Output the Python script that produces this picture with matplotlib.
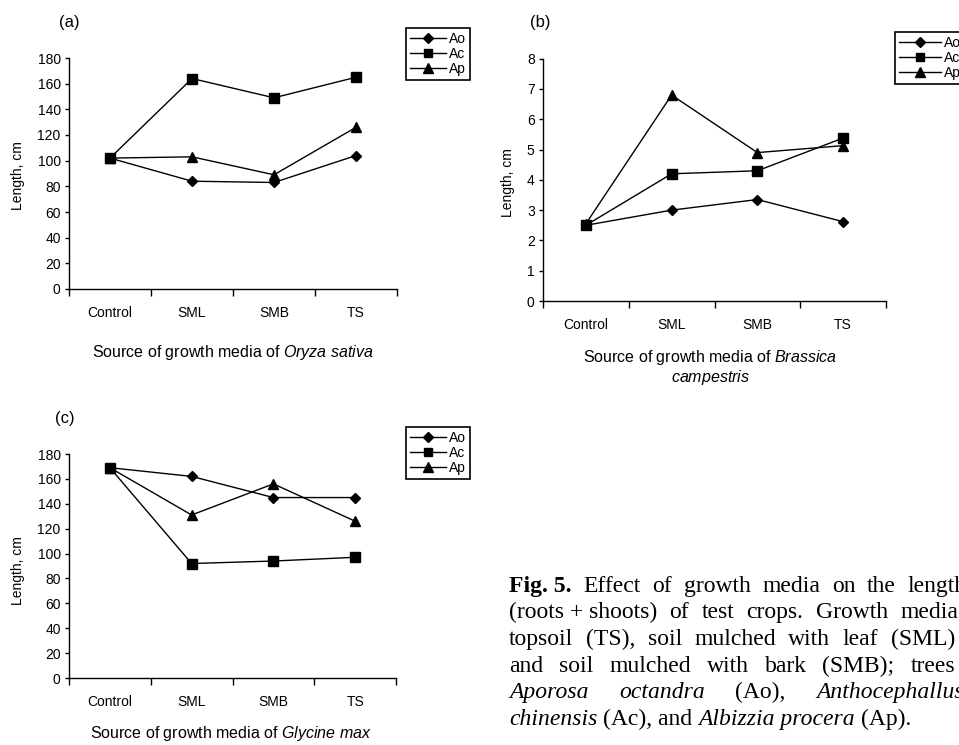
import matplotlib
matplotlib.use('Agg')
import matplotlib.pyplot as plt

# ---------------- data ----------------
categories = ['Control', 'SML', 'SMB', 'TS']
series_names = ['Ao', 'Ac', 'Ap']

a_ao = [102, 84, 83, 104]
a_ac = [102, 164, 149, 165]
a_ap = [102, 103, 89, 126]

b_ao = [2.5, 3.0, 3.35, 2.62]
b_ac = [2.5, 4.2, 4.3, 5.38]
b_ap = [2.55, 6.8, 4.9, 5.13]

c_ao = [169, 162, 145, 145]
c_ac = [169, 92, 94, 97]
c_ap = [169, 131, 156, 126]

a_yticks = list(range(0, 181, 20))
b_yticks = list(range(0, 9, 1))
c_yticks = list(range(0, 181, 20))

# ---------------- style ----------------
plt.rcParams['font.family'] = ['Liberation Sans', 'DejaVu Sans']
plt.rcParams['mathtext.fontset'] = 'custom'
plt.rcParams['mathtext.rm'] = 'Liberation Sans'
plt.rcParams['mathtext.it'] = 'Liberation Sans:italic'

W, H = 959, 745
fig = plt.figure(figsize=(W / 100, H / 100), dpi=100)

markers = {'Ao': ('D', 5.5), 'Ac': ('s', 6.5), 'Ap': ('^', 7.5)}


def px_rect(l, r, b, t):
    return [l / W, 1 - b / H, (r - l) / W, (b - t) / H]


def make_panel(rect, data, yticks, xlabel, xlab_xy, ylab_xy, leg_xy, label_ls=1.2,
               handlelength=2.6):
    ax = fig.add_axes(rect)
    x = list(range(len(categories)))
    for name, vals in zip(series_names, data):
        m, ms = markers[name]
        ax.plot(x, vals, color='black', lw=1.0, marker=m, markersize=ms,
                markerfacecolor='black', markeredgecolor='black', label=name)
    ax.set_xlim(-0.5, len(categories) - 0.5)
    ax.set_ylim(yticks[0], yticks[-1])
    ax.set_yticks(yticks)
    ax.set_xticks([i - 0.5 for i in range(len(categories) + 1)])
    ax.set_xticklabels([])
    ax.set_xticks(x, minor=True)
    ax.set_xticklabels(categories, minor=True)
    ax.tick_params(axis='x', which='major', direction='out', length=5, width=1)
    ax.tick_params(axis='x', which='minor', length=0, pad=12, labelsize=10)
    ax.tick_params(axis='y', direction='out', length=3, width=1, pad=3, labelsize=10)
    for s in ['top', 'right']:
        ax.spines[s].set_visible(False)
    for s in ['left', 'bottom']:
        ax.spines[s].set_linewidth(1.0)
    ax.set_xlabel(xlabel, fontsize=11.5, linespacing=label_ls)
    ax.xaxis.set_label_coords(*xlab_xy)
    ax.set_ylabel('Length, cm', fontsize=10)
    ax.yaxis.set_label_coords(*ylab_xy)
    leg = ax.legend(loc='upper left', bbox_to_anchor=(leg_xy[0] / W, 1 - leg_xy[1] / H),
                    bbox_transform=fig.transFigure, borderaxespad=0, fontsize=10,
                    frameon=True, fancybox=False, edgecolor='black', framealpha=1,
                    handlelength=handlelength, handletextpad=0.2, labelspacing=0.05,
                    borderpad=0.3, markerscale=0.9)
    leg.get_frame().set_linewidth(1.2)
    return ax


make_panel(px_rect(69, 397, 289, 58), [a_ao, a_ac, a_ap], a_yticks,
           r'Source of growth media of $\it{Oryza\ sativa}$',
           (0.5, -0.235), (-0.134, 0.49), (406, 28))
make_panel(px_rect(543, 886, 301, 58.7), [b_ao, b_ac, b_ap], b_yticks,
           'Source of growth media of $\\it{Brassica}$\n$\\it{campestris}$',
           (0.487, -0.195), (-0.082, 0.49), (895, 32), label_ls=1.05,
           handlelength=3.0)
make_panel(px_rect(69, 396, 678, 454), [c_ao, c_ac, c_ap], c_yticks,
           r'Source of growth media of $\it{Glycine\ max}$',
           (0.496, -0.205), (-0.135, 0.48), (406, 427))

# panel letters
for lab, xp, yp in [('(a)', 69, 22), ('(b)', 540, 22), ('(c)', 65, 418)]:
    fig.text(xp / W, 1 - yp / H, lab, fontsize=12, ha='center', va='center')

# ---------------- caption (justified) ----------------
renderer = fig.canvas.get_renderer()
CAP_FS = 17
CAP_FAM = ['Liberation Serif', 'DejaVu Serif']
N, B, I = 'normal', 'bold', 'italic'

caption_lines = [
    ([('Fig. 5.', B), ('Effect', N), ('of', N), ('growth', N), ('media', N), ('on', N),
      ('the', N), ('length', N)], 592, 967, True),
    ([('(roots + shoots)', N), ('of', N), ('test', N), ('crops.', N), ('Growth', N),
      ('media', N)], 618, 958, True),
    ([('topsoil', N), ('(TS),', N), ('soil', N), ('mulched', N), ('with', N), ('leaf', N),
      ('(SML)', N)], 645, 955, True),
    ([('and', N), ('soil', N), ('mulched', N), ('with', N), ('bark', N), ('(SMB);', N),
      ('trees', N)], 672, 955, True),
    ([('Aporosa', I), ('octandra', I), ('(Ao),', N), ('Anthocephallus', I)], 698, 964, True),
    ([('chinensis', I), ('(Ac), and', N), ('Albizzia procera', I), ('(Ap).', N)], 725, None, False),
]
X0 = 509
SPACE = CAP_FS * 100 / 72 * 0.25

for tokens, ybase, xright, justify in caption_lines:
    objs, widths = [], []
    for s, st in tokens:
        t = fig.text(0, 1 - ybase / H, s, fontsize=CAP_FS, family=CAP_FAM,
                     weight='bold' if st == B else 'normal',
                     style='italic' if st == I else 'normal',
                     ha='left', va='baseline')
        objs.append(t)
        widths.append(t.get_window_extent(renderer).width)
    if justify and len(objs) > 1:
        gap = (xright - X0 - sum(widths)) / (len(objs) - 1)
    else:
        gap = SPACE
    xcur = X0
    for t, w in zip(objs, widths):
        t.set_x(xcur / W)
        xcur += w + gap

fig.savefig('out.png', dpi=100)
